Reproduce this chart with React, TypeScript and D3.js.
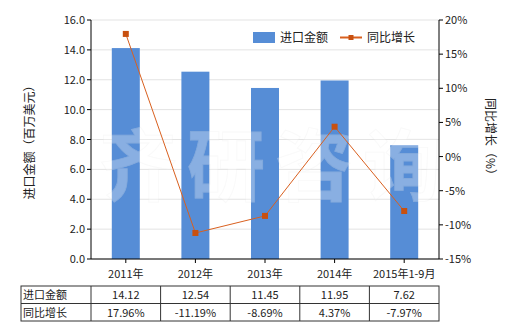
import React from "react";
import * as d3 from "d3";

const categories = ["2011年", "2012年", "2013年", "2014年", "2015年1-9月"];
const importValues = [14.12, 12.54, 11.45, 11.95, 7.62];
const growthValues = [17.96, -11.19, -8.69, 4.37, -7.97];
const importLabels = ["14.12", "12.54", "11.45", "11.95", "7.62"];
const growthLabels = ["17.96%", "-11.19%", "-8.69%", "4.37%", "-7.97%"];
const leftTicks = [0, 2, 4, 6, 8, 10, 12, 14, 16];
const rightTicks = [-15, -10, -5, 0, 5, 10, 15, 20];
const seriesNames = ["进口金额", "同比增长"];

const W = 520, H = 330;
const L = 91, R = 439, T = 20, B = 259;
const FONT = "'Noto Sans CJK SC', 'DejaVu Sans', sans-serif";
const BAR = "#568dd6";
const LINE = "#d9601f";
const MARK = "#c8500f";

export default function App() {
  const band = d3.scaleBand<string>().domain(categories).range([L, R]);
  const yL = d3.scaleLinear().domain([0, 16]).range([B, T]);
  const yR = d3.scaleLinear().domain([-15, 20]).range([B, T]);
  const cx = (c: string) => band(c)! + band.bandwidth() / 2;
  const line = d3.line<number>().x((_, i) => cx(categories[i])).y((d) => yR(d));
  const rowTop = 286, rowMid = 303.5, rowBot = 321;
  const tableLeft = 21;
  return (
    <svg width={W} height={H} style={{ position: "absolute", left: 0, top: 0, fontFamily: FONT }}>
      <rect width={W} height={H} fill="#fff" />
      {leftTicks.map((t) => (
        <line key={"g" + t} x1={L} x2={R} y1={yL(t)} y2={yL(t)} stroke="#e3e3e3" strokeWidth={1} />
      ))}
      {categories.map((c, i) => (
        <rect key={"b" + c} x={cx(c) - 14} width={28} y={yL(importValues[i])} height={B - yL(importValues[i])} fill={BAR} />
      ))}
      <g opacity={0.3} fill="#ffffff" stroke="#ececec" strokeWidth={0.8} fontWeight="bold" fontSize={78}>
        {["齐", "研", "咨", "询"].map((ch, i) => (
          <text key={ch} x={138 + i * 88} y={195} textAnchor="middle">{ch}</text>
        ))}
      </g>
      <path d={line(growthValues)!} fill="none" stroke={LINE} strokeWidth={1} />
      {growthValues.map((g, i) => (
        <rect key={"m" + i} x={cx(categories[i]) - 3} y={yR(g) - 3} width={6} height={6} fill={MARK} />
      ))}
      <line x1={L} x2={L} y1={T} y2={B} stroke="#000" />
      {leftTicks.map((t) => (
        <g key={"l" + t}>
          <line x1={L - 4} x2={L} y1={yL(t)} y2={yL(t)} stroke="#000" />
          <text x={L - 6} y={yL(t) + 4} textAnchor="end" fontSize={11} fill="#222">{t.toFixed(1)}</text>
        </g>
      ))}
      <line x1={R} x2={R} y1={T} y2={B} stroke="#000" />
      {rightTicks.map((t) => (
        <g key={"r" + t}>
          <line x1={R} x2={R + 4} y1={yR(t)} y2={yR(t)} stroke="#000" />
          <text x={R + 6} y={yR(t) + 4} textAnchor="start" fontSize={11} fill="#222">{t + "%"}</text>
        </g>
      ))}
      <line x1={L} x2={R} y1={B} y2={B} stroke="#000" />
      {categories.map((c) => (
        <g key={"x" + c}>
          <line x1={cx(c)} x2={cx(c)} y1={B} y2={B + 4} stroke="#000" />
          <text x={cx(c)} y={278} textAnchor="middle" fontSize={11} fill="#222">{c}</text>
        </g>
      ))}
      <text transform={`translate(34,${(T + B) / 2}) rotate(-90)`} textAnchor="middle" fontSize={12} fill="#222">进口金额（百万美元）</text>
      <text transform={`translate(486,${(T + B) / 2}) rotate(90)`} textAnchor="middle" fontSize={12} fill="#222">同比增长（%）</text>
      <rect x={253} y={32} width={22} height={11} fill={BAR} />
      <text x={280} y={42} fontSize={12} fill="#222">{seriesNames[0]}</text>
      <line x1={340} x2={362} y1={37.5} y2={37.5} stroke={LINE} strokeWidth={2} />
      <rect x={348.5} y={35} width={5} height={5} fill={MARK} />
      <text x={367} y={42} fontSize={12} fill="#222">{seriesNames[1]}</text>
      <g stroke="#333" strokeWidth={1} fill="none">
        <rect x={tableLeft} y={rowTop} width={R - tableLeft} height={rowBot - rowTop} />
        <line x1={tableLeft} x2={R} y1={rowMid} y2={rowMid} />
        <line x1={L} x2={L} y1={rowTop} y2={rowBot} />
        {categories.slice(1).map((c) => (
          <line key={"tv" + c} x1={band(c)!} x2={band(c)!} y1={rowTop} y2={rowBot} />
        ))}
      </g>
      <text x={tableLeft + 2} y={rowTop + 13} fontSize={11} fill="#222">{seriesNames[0]}</text>
      <text x={tableLeft + 2} y={rowMid + 13} fontSize={11} fill="#222">{seriesNames[1]}</text>
      {categories.map((c, i) => (
        <g key={"tc" + c}>
          <text x={cx(c)} y={rowTop + 13} textAnchor="middle" fontSize={11} fill="#222">{importLabels[i]}</text>
          <text x={cx(c)} y={rowMid + 13} textAnchor="middle" fontSize={11} fill="#222">{growthLabels[i]}</text>
        </g>
      ))}
    </svg>
  );
}
